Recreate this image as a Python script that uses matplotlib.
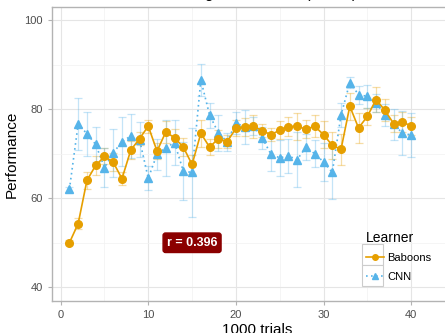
import matplotlib
matplotlib.use("Agg")
import matplotlib.pyplot as plt
from matplotlib.patches import Rectangle
from matplotlib.lines import Line2D
import numpy as np

plt.rcParams['font.family'] = ['Liberation Sans', 'DejaVu Sans']

trials = list(range(1, 41))

baboons = [50.0, 54.3, 64.0, 67.4, 69.4, 68.1, 64.4, 70.8, 73.4, 76.2,
           70.6, 74.9, 73.6, 71.5, 67.6, 74.6, 71.5, 73.4, 72.7, 75.7,
           76.0, 76.2, 75.2, 74.3, 75.3, 76.1, 76.2, 75.5, 76.2, 74.3,
           71.9, 71.0, 80.7, 75.8, 78.4, 82.2, 79.8, 76.8, 77.1, 76.3]
baboons_se = [0.6, 1.2, 2.0, 2.2, 1.8, 2.0, 1.5, 2.0, 1.5, 1.5,
              1.8, 2.5, 2.0, 2.0, 2.2, 3.0, 1.8, 2.0, 1.5, 1.8,
              2.0, 2.6, 1.5, 1.5, 2.0, 2.2, 3.0, 2.0, 2.5, 3.0,
              3.0, 3.5, 3.0, 3.4, 2.0, 2.8, 2.5, 2.0, 2.2, 2.0]

cnn = [62.0, 76.7, 74.5, 72.1, 66.9, 70.2, 72.7, 74.0, 73.2, 64.5,
       69.9, 71.4, 72.5, 66.1, 65.8, 86.6, 78.7, 74.7, 72.7, 77.0,
       76.0, 76.3, 73.6, 69.9, 69.1, 69.5, 68.7, 71.5, 70.0, 68.2,
       65.8, 78.7, 86.0, 83.3, 82.9, 81.4, 78.8, 76.6, 74.7, 74.2]
cnn_se = [0.5, 5.8, 4.9, 4.0, 4.3, 5.4, 5.5, 5.0, 4.0, 2.7,
          3.5, 6.3, 5.0, 6.5, 10.0, 3.5, 2.8, 4.0, 2.0, 2.5,
          3.9, 2.0, 2.5, 3.7, 4.0, 3.8, 6.2, 3.0, 3.0, 4.3,
          6.0, 2.7, 1.3, 2.0, 2.5, 2.0, 2.5, 3.5, 5.0, 5.0]

r_value = 0.396

ORANGE = "#E69F00"
BLUE = "#56B4E9"

fig = plt.figure(figsize=(4.45, 3.33), dpi=100)
ax = fig.add_axes([0.116, 0.096, 0.926, 0.883])

# grid
ax.set_xticks([0, 10, 20, 30, 40])
ax.set_xticks([5, 15, 25, 35, 45], minor=True)
ax.set_yticks([40, 60, 80, 100])
ax.set_yticks([50, 70, 90], minor=True)
ax.grid(True, which='major', color='#E5E5E5', linewidth=0.8)
ax.grid(True, which='minor', color='#F2F2F2', linewidth=0.5)
ax.set_axisbelow(True)

ax.errorbar(trials, baboons, yerr=baboons_se, fmt='none', ecolor=ORANGE,
            alpha=0.35, elinewidth=0.9, capsize=3, capthick=0.9, zorder=2)
ax.errorbar(trials, cnn, yerr=cnn_se, fmt='none', ecolor=BLUE,
            alpha=0.35, elinewidth=0.9, capsize=3, capthick=0.9, zorder=2)

ax.plot(trials, cnn, color=BLUE, linestyle=(0, (1, 2)), linewidth=1.2,
        marker='^', markersize=6, zorder=3)
ax.plot(trials, baboons, color=ORANGE, linestyle='-', linewidth=1.2,
        marker='o', markersize=5.5, zorder=4)

ax.text(15, 50, f"r = {r_value}", color='white', fontsize=9, fontweight='bold',
        ha='center', va='center', zorder=6,
        bbox=dict(boxstyle='round,pad=0.3,rounding_size=0.2', fc='#8B0000', ec='#8B0000'))

ax.set_xlim(-1.03, 46)
ax.set_ylim(36.9, 103)

for s in ax.spines.values():
    s.set_color('#B3B3B3')
    s.set_linewidth(1.0)
ax.tick_params(which='major', colors='#B3B3B3', labelcolor='#4D4D4D',
               labelsize=8, length=3, width=0.8)
ax.tick_params(which='minor', length=0)

ax.set_xlabel("1000 trials", fontsize=11, labelpad=2)
ax.set_ylabel("Performance", fontsize=11, labelpad=4)

# title mostly cropped above the figure edge (only descenders show)
fig.text(0.575, 1.005, "Learning Curve Mean (±SEM)", fontsize=11,
         ha='center', va='baseline')

# legend
handles = [Line2D([], [], color=ORANGE, marker='o', markersize=4, linestyle='-', linewidth=1.2),
           Line2D([], [], color=BLUE, marker='^', markersize=4, linestyle=(0, (1, 2)), linewidth=1.2)]
for i in range(2):
    fig.patches.append(Rectangle((362 / 445, 1 - (244 + 21 * (i + 1)) / 333), 21 / 445, 21 / 333,
                                 transform=fig.transFigure, fc='white', ec='#CCCCCC', lw=0.8, zorder=5))
leg = fig.legend(handles, ["Baboons", "CNN"], title="Learner", frameon=False,
                 loc='upper left', bbox_to_anchor=(357 / 445, 1 - 222 / 333),
                 fontsize=8, title_fontsize=10, handlelength=1.6,
                 handletextpad=0.3, labelspacing=0.75, borderpad=0.3)
leg._legend_box.align = 'left'
leg.set_zorder(6)

fig.savefig("out.png", dpi=100)
